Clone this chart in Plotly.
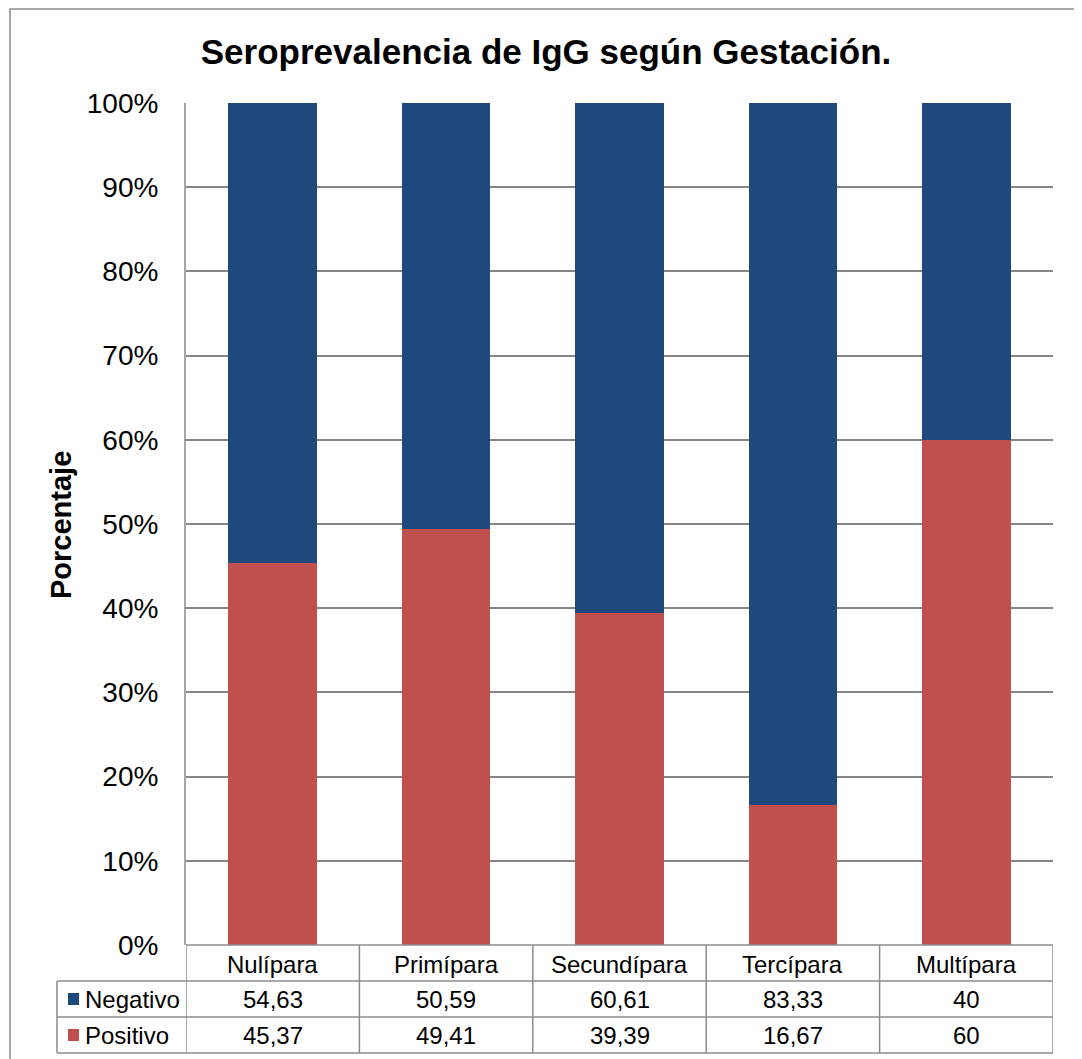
import plotly.graph_objects as go

categories = ["Nulípara", "Primípara", "Secundípara", "Tercípara", "Multípara"]
negativo = [54.63, 50.59, 60.61, 83.33, 40]
positivo = [45.37, 49.41, 39.39, 16.67, 60]
series_names = ["Negativo", "Positivo"]
y_ticks = [0, 10, 20, 30, 40, 50, 60, 70, 80, 90, 100]
y_tick_text = [f"{t}%" for t in y_ticks]

C_NEG = "#1F497D"
C_POS = "#C0504D"
GRID = "#868686"
FONT = "Liberation Sans, Arial, sans-serif"

OFF = 8  # page body margin
W, H = 1082 - OFF, 1059 - OFF
# plot area in screen pixels
SL, SR, ST, SB = 186, 1053, 103, 945
L, R, T, B = SL - OFF, SR - OFF, ST - OFF, SB - OFF


def px_x(s):
    return (s - OFF - L) / (R - L)


def px_y(s):
    return (B - (s - OFF)) / (B - T)


fig = go.Figure()
fig.add_trace(go.Bar(x=categories, y=positivo, name=series_names[1],
                     marker=dict(color=C_POS, line=dict(width=0)), width=0.51))
fig.add_trace(go.Bar(x=categories, y=negativo, name=series_names[0],
                     marker=dict(color=C_NEG, line=dict(width=0)), width=0.51))

shapes = []
line_style = dict(color="#8C8C8C", width=1.5)
# outer border
shapes.append(dict(type="rect", xref="paper", yref="paper",
                   x0=px_x(10), x1=px_x(1081), y0=px_y(1080), y1=px_y(9),
                   line=dict(color="#8C8C8C", width=1.5), layer="below"))
# table horizontal lines
row_tops = [945, 981, 1017, 1053]
for i, yy in enumerate(row_tops):
    x0 = px_x(186) if i == 0 else px_x(57)
    shapes.append(dict(type="line", xref="paper", yref="paper",
                       x0=x0, x1=1, y0=px_y(yy), y1=px_y(yy), line=line_style))
# table vertical lines at category boundaries
for k in range(len(categories) + 1):
    shapes.append(dict(type="line", xref="x", yref="paper",
                       x0=k - 0.5, x1=k - 0.5, y0=px_y(945), y1=px_y(1053),
                       line=line_style))
shapes.append(dict(type="line", xref="paper", yref="paper",
                   x0=px_x(57), x1=px_x(57), y0=px_y(981), y1=px_y(1053),
                   line=line_style))

TF = dict(size=24, color="#000", family=FONT)
annotations = []
# header row
for i, c in enumerate(categories):
    annotations.append(dict(x=i, y=px_y(964), xref="x", yref="paper", text=c,
                            xanchor="center", yanchor="middle",
                            showarrow=False, font=TF))
rows = [(series_names[0], negativo, C_NEG, 999), (series_names[1], positivo, C_POS, 1035)]
for name, vals, col, yc in rows:
    shapes.append(dict(type="rect", xref="paper", yref="paper",
                       x0=px_x(68), x1=px_x(79), y0=px_y(yc - 6), y1=px_y(yc + 6),
                       fillcolor=col, line=dict(width=0)))
    annotations.append(dict(x=px_x(83), y=px_y(yc), xref="paper", yref="paper",
                            text=name, xanchor="left", yanchor="middle",
                            showarrow=False, font=TF))
    for i, v in enumerate(vals):
        annotations.append(dict(x=i, y=px_y(yc), xref="x", yref="paper",
                                text=f"{v:g}".replace(".", ","), showarrow=False,
                                xanchor="center", yanchor="middle", font=TF))
# y-axis title
annotations.append(dict(x=px_x(61), y=px_y(525), xref="paper", yref="paper",
                        text="<b>Porcentaje</b>", textangle=-90, showarrow=False,
                        xanchor="center", yanchor="middle",
                        font=dict(size=29, color="#000", family=FONT)))

fig.update_layout(
    width=W, height=H, autosize=False,
    margin=dict(l=L, r=W - R, t=T, b=H - B, pad=0),
    paper_bgcolor="white", plot_bgcolor="white",
    barmode="stack", showlegend=False,
    title=dict(text="<b>Seroprevalencia de IgG según Gestación.</b>",
               x=(546 - OFF) / W, xanchor="center",
               y=1 - (52 - OFF) / H, yanchor="middle",
               font=dict(size=35, color="#000", family=FONT)),
    font=dict(family=FONT, color="#000"),
    xaxis=dict(type="category", range=[-0.5, 4.5], showticklabels=False,
               showgrid=False, zeroline=False, showline=False, ticks=""),
    yaxis=dict(range=[0, 100], tickmode="array", tickvals=y_ticks, ticktext=y_tick_text,
               showgrid=True, gridcolor=GRID, gridwidth=1.5,
               zeroline=False, showline=True, linecolor="#A6A6A6", linewidth=2,
               ticks="", ticklabelstandoff=20,
               tickfont=dict(size=28, color="#000", family=FONT)),
    shapes=shapes, annotations=annotations,
)

fig.write_html("out.html")
